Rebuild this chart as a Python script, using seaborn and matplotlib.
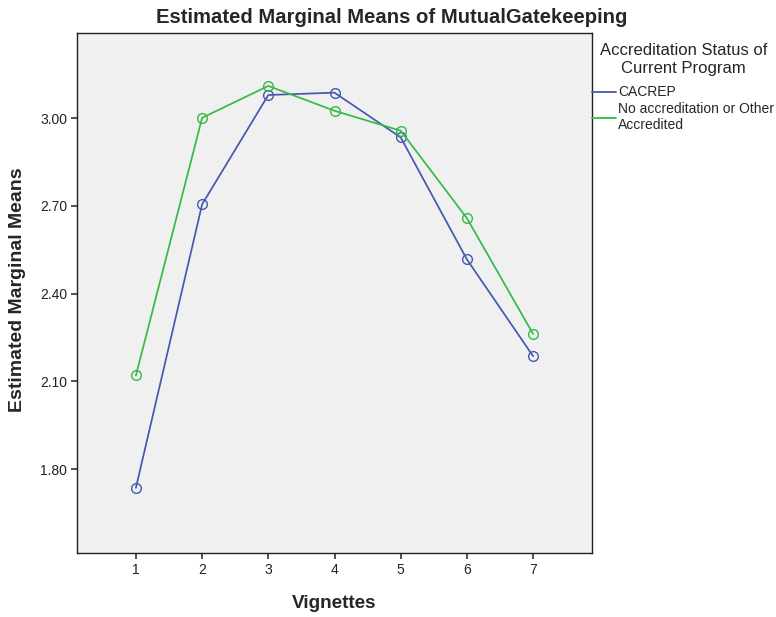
import numpy as np
import pandas as pd
import seaborn as sns
import matplotlib.pyplot as plt
from matplotlib.lines import Line2D

# ─── Data ────────────────────────────────────────────────────────────────────
vignettes = [1, 2, 3, 4, 5, 6, 7]
cacrep    = [1.736, 2.705, 3.079, 3.087, 2.934, 2.517, 2.186]
other     = [2.120, 3.001, 3.110, 3.025, 2.957, 2.658, 2.262]
groups    = ["CACREP", "No accreditation or Other\nAccredited"]
colors    = ["#4358B0", "#33BA48"]
y_ticks   = [1.80, 2.10, 2.40, 2.70, 3.00]

df = pd.DataFrame({
    "Vignettes": vignettes * 2,
    "Mean"     : cacrep + other,
    "Group"    : [groups[0]] * len(vignettes) + [groups[1]] * len(vignettes),
})

# ─── Style ───────────────────────────────────────────────────────────────────
sns.set_style("white")
plt.rcParams["font.family"] = ["Liberation Sans", "DejaVu Sans"]

fig = plt.figure(figsize=(7.76, 6.17), dpi=100)
ax = fig.add_axes([77 / 776, 1 - 553 / 617, (592 - 77) / 776, (553 - 33) / 617])
ax.set_facecolor("#F0F0F0")

sns.lineplot(
    data=df, x="Vignettes", y="Mean", hue="Group",
    palette=dict(zip(groups, colors)), hue_order=groups,
    marker="o", markersize=7, linewidth=1.25, legend=False, ax=ax,
)
for line in ax.lines:
    c = line.get_color()
    line.set_markerfacecolor("none")
    line.set_markeredgecolor(c)
    line.set_markeredgewidth(1.0)

# ─── Axes ────────────────────────────────────────────────────────────────────
ax.set_xlim(0.11, 7.89)
ax.set_ylim(1.513, 3.291)
ax.set_xticks(vignettes)
ax.set_yticks(y_ticks)
ax.set_yticklabels([f"{v:.2f}" for v in y_ticks])
ax.tick_params(axis="both", direction="out", length=4, width=1.2,
               color="#333333", labelsize=10, labelcolor="#222222", pad=3,
               left=True, bottom=True)
for s in ax.spines.values():
    s.set_color("#222222")
    s.set_linewidth(1.0)
ax.set_xlabel("")
ax.set_ylabel("")

# axis titles and chart title placed in figure coordinates
fig.text(334 / 776, 1 - 603 / 617, "Vignettes",
         ha="center", va="center", fontsize=13.6, fontweight="bold")
fig.text(18 / 776, 1 - 290 / 617, "Estimated Marginal Means", rotation=90,
         ha="center", va="center", fontsize=14, fontweight="bold")
fig.text(0.505, 0.972, "Estimated Marginal Means of MutualGatekeeping",
         ha="center", va="center", fontsize=14.6, fontweight="bold")

# ─── Legend ──────────────────────────────────────────────────────────────────
handles = [Line2D([0], [0], color=c, lw=1.3) for c in colors]
leg = ax.legend(
    handles, groups, title="Accreditation Status of\nCurrent Program",
    loc="upper left", bbox_to_anchor=(1.0, 0.98), frameon=False,
    borderaxespad=0, borderpad=0, handlelength=1.75, handletextpad=0.15,
    fontsize=10, title_fontsize=12, labelspacing=0.17,
)
leg._legend_box.align = "center"
leg._legend_box.sep = 6.5
leg.get_title().set_multialignment("center")
leg.get_title().set_linespacing(1.25)

fig.savefig("out.png", dpi=100)
